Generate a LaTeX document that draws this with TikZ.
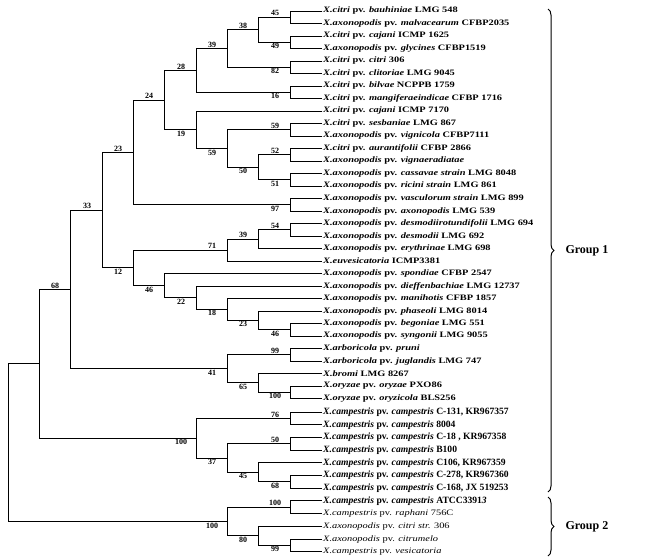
\documentclass[tikz,border=0pt]{standalone}
\usepackage{fontspec}
\setmainfont{Liberation Serif}
\newfontfamily\wideserif[FakeStretch=1.25]{Liberation Serif}
\usetikzlibrary{calc,decorations.pathreplacing}

\tikzset{
  leaf/.style={anchor=west,inner sep=1pt,font=\wideserif\bfseries\fontsize{8.3}{9}\selectfont},
  bigleaf/.style={anchor=west,inner sep=1pt,font=\bfseries\fontsize{9.6}{10}\selectfont},
  thinleaf/.style={anchor=west,inner sep=1pt,font=\wideserif\fontsize{8.3}{9}\selectfont},
  boot/.style={inner sep=1pt,font=\bfseries\fontsize{8}{9}\selectfont},
  branch/.style={line width=0.9pt},
  group/.style={anchor=west,font=\bfseries\fontsize{12}{13}\selectfont}
}

% clade: name, column, top child, bottom child, top label, bottom label
\newcommand{\clade}[6]{%
  \path ($(#3)!.5!(#4)$) coordinate (tmp);
  \coordinate (#1) at (tmp -| #2);
  \draw[branch] (#3) -- (#1 |- #3) -- (#1 |- #4) -- (#4);
  \node[boot,above] at ([xshift=-15pt]#3) {#5};
  \node[boot,below] at ([xshift=-15pt]#4) {#6};
}

\begin{document}
\begin{tikzpicture}[x=1pt,y=-1pt]
\useasboundingbox (0,0) rectangle (650,557);

% columns
\foreach \c/\x in {0/8,1/39,2/70,3/102,4/133,5/164,6/196,7/227,8/258,9/290}
  \coordinate (x\c) at (\x,0);

% leaves
\foreach \i/\t in {
  1/{\textit{X.citri} pv. \textit{bauhiniae} LMG 548},
  2/{\textit{X.axonopodis} pv. \textit{malvacearum} CFBP2035},
  3/{\textit{X.citri} pv. \textit{cajani} ICMP 1625},
  4/{\textit{X.axonopodis} pv. \textit{glycines} CFBP1519},
  5/{\textit{X.citri} pv. \textit{citri} 306},
  6/{\textit{X.citri} pv. \textit{clitoriae} LMG 9045},
  7/{\textit{X.citri} pv. \textit{bilvae} NCPPB 1759},
  8/{\textit{X.citri} pv. \textit{mangiferaeindicae} CFBP 1716},
  9/{\textit{X.citri} pv. \textit{cajani} ICMP 7170},
  10/{\textit{X.citri} pv. \textit{sesbaniae} LMG 867},
  11/{\textit{X.axonopodis} pv. \textit{vignicola} CFBP7111},
  12/{\textit{X.citri} pv. \textit{aurantifolii} CFBP 2866},
  13/{\textit{X.axonopodis} pv. \textit{vignaeradiatae}},
  14/{\textit{X.axonopodis} pv. \textit{cassavae strain} LMG 8048},
  15/{\textit{X.axonopodis} pv. \textit{ricini strain} LMG 861},
  16/{\textit{X.axonopodis} pv. \textit{vasculorum strain} LMG 899},
  17/{\textit{X.axonopodis} pv. \textit{axonopodis} LMG 539},
  18/{\textit{X.axonopodis} pv. \textit{desmodiirotundifolii} LMG 694},
  19/{\textit{X.axonopodis} pv. \textit{desmodii} LMG 692},
  20/{\textit{X.axonopodis} pv. \textit{erythrinae} LMG 698},
  21/{\textit{X.euvesicatoria} ICMP3381},
  22/{\textit{X.axonopodis} pv. \textit{spondiae} CFBP 2547},
  23/{\textit{X.axonopodis} pv. \textit{dieffenbachiae} LMG 12737},
  24/{\textit{X.axonopodis} pv. \textit{manihotis} CFBP 1857},
  25/{\textit{X.axonopodis} pv. \textit{phaseoli} LMG 8014},
  26/{\textit{X.axonopodis} pv. \textit{begoniae} LMG 551},
  27/{\textit{X.axonopodis} pv. \textit{syngonii} LMG 9055},
  28/{\textit{X.arboricola} pv. \textit{pruni}},
  29/{\textit{X.arboricola} pv. \textit{juglandis} LMG 747},
  30/{\textit{X.bromi} LMG 8267},
  31/{\textit{X.oryzae} pv. \textit{oryzae} PXO86},
  32/{\textit{X.oryzae} pv. \textit{oryzicola} BLS256}}
  \node[leaf] (l\i) at (322,{11+12.5*(\i-1)}) {\t};

\foreach \i/\t in {
  33/{C-131, KR967357},
  34/{8004},
  35/{C-18 , KR967358},
  36/{B100},
  37/{C106, KR967359},
  38/{C-278, KR967360},
  39/{C-168, JX 519253},
  40/{ATCC3391\textit{3}}}
  \node[bigleaf] (l\i) at (322,{412+12.7*(\i-33)}) {\textit{X.campestris} pv. \textit{campestris} \t};

\foreach \i/\t in {
  41/{\textit{X.campestris} pv. \textit{raphani} 756C},
  42/{\textit{X.axonopodis} pv. \textit{citri str.} 306},
  43/{\textit{X.axonopodis} pv. \textit{citrumelo}},
  44/{\textit{X.campestris} pv. \textit{vesicatoria}}}
  \node[thinleaf] (l\i) at (322,{412+12.7*(\i-33)}) {\t};

% leaf pairs
\foreach \a/\b in {1/2,3/4,5/6,7/8,10/11,12/13,14/15,16/17,18/19,26/27,28/29,31/32,33/34,35/36,38/39,40/41,43/44}
  \clade{p\a}{x9}{l\a.west}{l\b.west}{}{};

% group 1 upper part
\clade{h}{x8}{p1}{p3}{45}{49}
\clade{g}{x7}{h}{p5}{38}{82}
\clade{f}{x6}{g}{p7}{39}{16}
\clade{k}{x8}{p12}{p14}{52}{51}
\clade{j}{x7}{p10}{k}{59}{50}
\clade{i}{x6}{l9.west}{j}{}{59}
\clade{e}{x5}{f}{i}{28}{19}
\clade{d}{x4}{e}{p16}{24}{97}
\clade{n39}{x8}{p18}{l20.west}{54}{}
\clade{n71}{x7}{n39}{l21.west}{39}{}
\clade{n23}{x8}{l25.west}{p26}{}{46}
\clade{n18}{x7}{l24.west}{n23}{}{23}
\clade{n22}{x6}{l23.west}{n18}{}{18}
\clade{n46}{x5}{l22.west}{n22}{}{22}
\clade{n12}{x4}{n71}{n46}{71}{46}
\clade{c}{x3}{d}{n12}{23}{12}
\clade{n65}{x8}{l30.west}{p31}{}{100}
\clade{n41}{x7}{p28}{n65}{99}{65}
\clade{b}{x2}{c}{n41}{33}{41}
% campestris
\clade{n45}{x8}{l37.west}{p38}{}{68}
\clade{n37}{x7}{p35}{n45}{50}{45}
\clade{n100}{x6}{p33}{n37}{76}{37}
\clade{a}{x1}{b}{n100}{68}{100}
% group 2
\clade{n80}{x8}{l42.west}{p43}{}{99}
\clade{g2}{x7}{p40}{n80}{100}{80}
\clade{r}{x0}{a}{g2}{}{100}

% groups
\draw[decorate,decoration={brace,amplitude=6pt},line width=1pt] (548,9) -- (548,492) coordinate[midway] (gb1);
\draw[decorate,decoration={brace,amplitude=6pt},line width=1pt] (548,497) -- (548,556) coordinate[midway] (gb2);
\node[group] (grp1) at ([xshift=14pt]gb1) {Group 1};
\node[group] (grp2) at ([xshift=14pt]gb2) {Group 2};

\end{tikzpicture}
\end{document}
